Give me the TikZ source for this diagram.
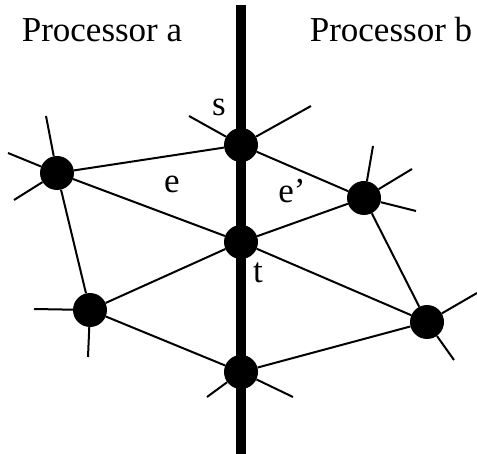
\documentclass[tikz,border=0pt]{standalone}
\usepackage{fontspec}
\setmainfont{Liberation Serif}
\begin{document}
\begin{tikzpicture}[x=1pt,y=-1pt,
  vtx/.style={circle,fill=black,inner sep=0pt,minimum size=34pt},
  edge/.style={line width=2pt},
  bar/.style={line width=10pt},
  lbl/.style={inner sep=0pt,anchor=base,font=\fontsize{35}{40}\selectfont}]
\useasboundingbox (0,0) rectangle (477,454);
% processor boundary
\coordinate (top) at (241,5);
\coordinate (bot) at (241,454);
\draw[bar] (top) -- (bot);
% vertices
\node[vtx] (s) at (241,145) {};
\node[vtx] (t) at (241,242) {};
\node[vtx] (L) at (57,173) {};
\node[vtx] (R) at (364,198) {};
\node[vtx] (LL) at (90,310) {};
\node[vtx] (LR) at (427,322) {};
\node[vtx] (B) at (241,372) {};
% loose ends of edges leaving the picture
\coordinate (L1) at (46,116);
\coordinate (L2) at (8,153);
\coordinate (L3) at (14,200);
\coordinate (s1) at (189,116);
\coordinate (s2) at (311,106);
\coordinate (R1) at (373,146);
\coordinate (R2) at (412,169);
\coordinate (R3) at (416,211);
\coordinate (LR1) at (477,293);
\coordinate (LR2) at (454,360);
\coordinate (LL1) at (34,309);
\coordinate (LL2) at (88,357);
\coordinate (B1) at (207,397);
\coordinate (B2) at (293,397);
% mesh edges
\foreach \a/\b in {L/s,L/t,L/LL,s/R,t/R,t/LR,R/LR,LL/t,LL/B,B/LR,
  L/L1,L/L2,L/L3,s/s1,s/s2,R/R1,R/R2,R/R3,LR/LR1,LR/LR2,LL/LL1,LL/LL2,B/B1,B/B2}
  \draw[edge] (\a) -- (\b);
% labels
\node[lbl] (pa) at (102,42) {Processor a};
\node[lbl] (pb) at (391,42) {Processor b};
\node[lbl] (ls) at (219,116) {s};
\node[lbl] (le) at (172,193) {e};
\node[lbl] (lep) at (292,203) {e’};
\node[lbl] (lt) at (258,283) {t};
\end{tikzpicture}
\end{document}
